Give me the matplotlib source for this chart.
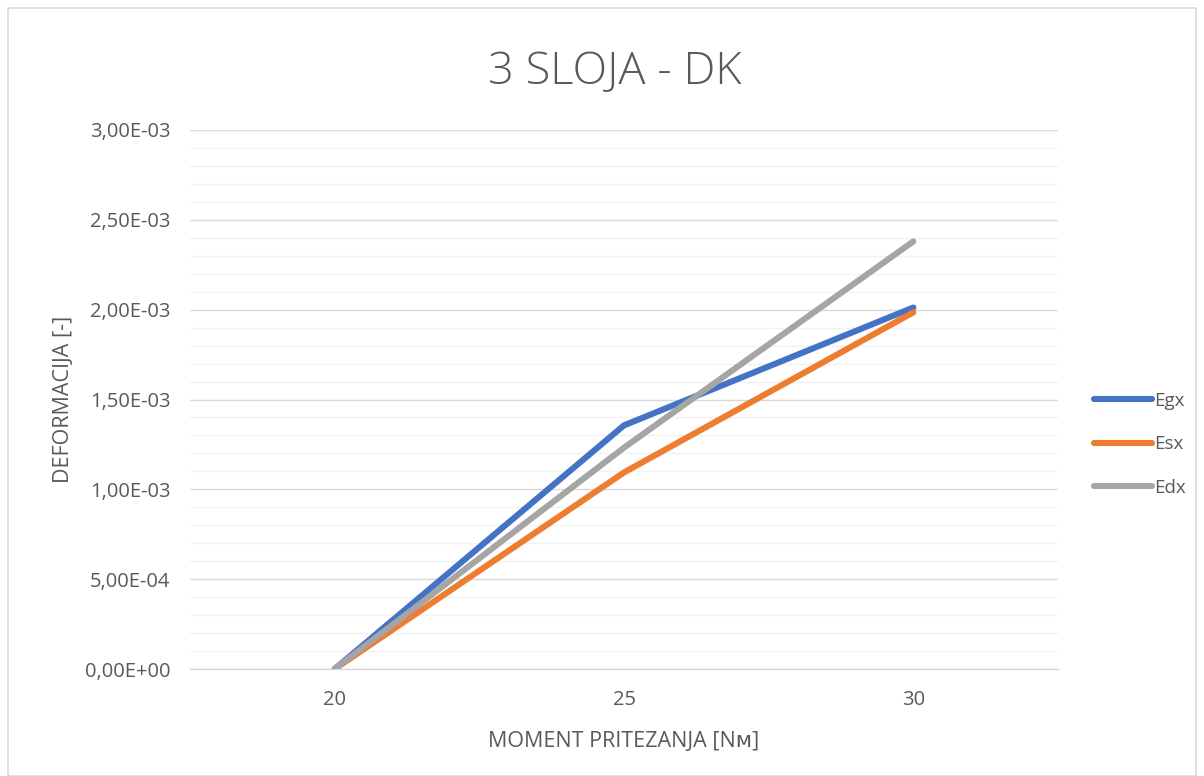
import matplotlib
matplotlib.use("Agg")
import matplotlib.pyplot as plt
from matplotlib.ticker import MultipleLocator, FuncFormatter
from matplotlib.patches import Rectangle

plt.rcParams['font.family'] = ['Open Sans', 'DejaVu Sans']

# torque values (category axis) and measured strains
moment = ['20', '25', '30']
egx = [0.0, 1.356e-3, 2.012e-3]
esx = [0.0, 1.094e-3, 1.985e-3]
edx = [0.0, 1.232e-3, 2.380e-3]

series = [('Egx', egx, '#4472C4'),
          ('Esx', esx, '#ED7D31'),
          ('Edx', edx, '#A5A5A5')]

txt = '#595959'

fig = plt.figure(figsize=(12.04, 7.76), dpi=100)
fig.patches.append(Rectangle((8 / 1204, 0), 1 - 16 / 1204, 1 - 8 / 776,
                             transform=fig.transFigure, fill=False,
                             edgecolor='#D9D9D9', linewidth=1.2))

ax = fig.add_axes([190 / 1204, 1 - 669 / 776, 868 / 1204, 539 / 776])

x = list(range(len(moment)))
for name, vals, col in series:
    ax.plot(x, vals, color=col, lw=4.4, solid_capstyle='round',
            solid_joinstyle='round', label=name, zorder=3)

ax.set_xlim(-0.5, len(moment) - 0.5)
ax.set_ylim(0, 3.0e-3)
ax.set_xticks(x)
ax.set_xticklabels(moment)

ax.yaxis.set_major_locator(MultipleLocator(5e-4))
ax.yaxis.set_minor_locator(MultipleLocator(1e-4))
ax.yaxis.set_major_formatter(FuncFormatter(
    lambda v, p: ('%.2E' % v).replace('.', ',')))

ax.grid(which='major', axis='y', color='#D9D9D9', lw=1.0, zorder=0)
ax.grid(which='minor', axis='y', color='#F2F2F2', lw=1.0, zorder=0)
for s in ['top', 'right', 'left']:
    ax.spines[s].set_visible(False)
ax.spines['bottom'].set_color('#D9D9D9')
ax.spines['bottom'].set_linewidth(1.0)
ax.tick_params(axis='both', which='both', length=0, labelsize=14.5,
               labelcolor=txt)
ax.tick_params(axis='x', pad=15)
ax.tick_params(axis='y', pad=14)

ax.set_title('3 SLOJA - DK', fontsize=32.5, color=txt, pad=33,
             fontweight='light', x=0.489)
ax.set_xlabel('MOMENT PRITEZANJA [Nᴍ]', fontsize=15.5, color=txt,
              labelpad=15)
ax.set_ylabel('DEFORMACIJA [-]', fontsize=15.5, color=txt, labelpad=8)

leg = ax.legend(loc='center left', bbox_to_anchor=(1.022, 0.417),
                frameon=False, fontsize=13.5, labelcolor=txt,
                handlelength=3.1, handletextpad=0.1, labelspacing=1.35)

fig.savefig('out.png', dpi=100)
